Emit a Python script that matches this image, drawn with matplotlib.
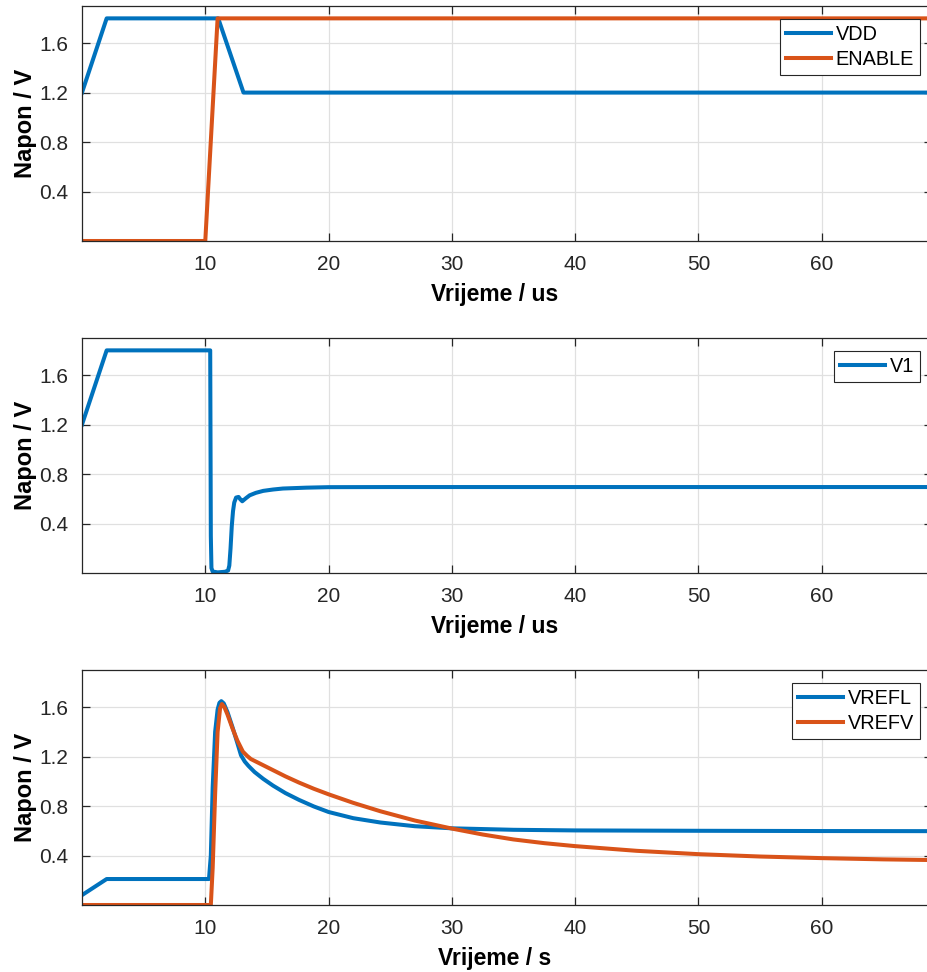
import matplotlib
matplotlib.use("Agg")
import matplotlib.pyplot as plt

plt.rcParams['font.family'] = ['Liberation Sans', 'DejaVu Sans']

BLUE = '#0072BD'
ORANGE = '#D95319'

# ---- data ----
t_vdd = [0, 2, 11.05, 13.1, 70]
vdd = [1.2, 1.8, 1.8, 1.2, 1.2]

t_en = [0, 10.0, 11.0, 70]
enable = [0, 0, 1.8, 1.8]

t_v1 = [0, 2, 10.4, 10.45, 10.5, 10.6, 11.0, 11.6, 11.85, 11.95, 12.05, 12.15,
        12.25, 12.35, 12.5, 12.7, 12.85, 13.0, 13.3, 13.6, 14.1, 14.7, 15.5,
        16.3, 18.2, 20, 25, 70]
v1 = [1.2, 1.8, 1.8, 0.3, 0.04, 0.012, 0.005, 0.01, 0.02, 0.06, 0.2, 0.38,
      0.5, 0.57, 0.61, 0.615, 0.595, 0.58, 0.605, 0.628, 0.648, 0.664, 0.675,
      0.683, 0.69, 0.694, 0.695, 0.695]

t_vrefl = [0, 2, 10.3, 10.45, 10.6, 10.8, 11.0, 11.15, 11.3, 11.5, 11.8, 12.2,
           12.6, 12.9, 13.2, 13.5, 14.0, 14.7, 15.5, 16.5, 17.6, 18.8, 20, 22,
           24.2, 27, 30, 35, 40, 50, 60, 70]
vrefl = [0.08, 0.21, 0.21, 0.4, 0.95, 1.4, 1.58, 1.635, 1.648, 1.63, 1.56, 1.44,
         1.31, 1.21, 1.16, 1.125, 1.075, 1.02, 0.965, 0.905, 0.85, 0.797, 0.752,
         0.702, 0.667, 0.637, 0.62, 0.608, 0.603, 0.6, 0.598, 0.597]

t_vrefv = [0, 10.45, 10.6, 10.8, 11.0, 11.2, 11.35, 11.55, 11.8, 12.2, 12.6,
           13.05, 13.4, 13.7, 14.5, 15.5, 16.5, 17.6, 18.8, 20, 22, 24.2, 27,
           30, 32.5, 35, 37.5, 40, 45, 50, 55, 60, 65, 70]
vrefv = [0, 0, 0.3, 0.9, 1.4, 1.59, 1.625, 1.6, 1.54, 1.43, 1.33, 1.24, 1.205,
         1.18, 1.14, 1.09, 1.04, 0.99, 0.94, 0.895, 0.826, 0.758, 0.683, 0.618,
         0.57, 0.53, 0.5, 0.476, 0.438, 0.411, 0.392, 0.379, 0.369, 0.362]

xticks = [10, 20, 30, 40, 50, 60]
yticks = [0.4, 0.8, 1.2, 1.6]
ylabel_txt = 'Napon / V'
xlabels = ['Vrijeme / us', 'Vrijeme / us', 'Vrijeme / s']

W, H = 928, 972
fig = plt.figure(figsize=(W / 100, H / 100), dpi=100)

ax_left, ax_right = 82, 932
panels = [(6, 241), (338, 573), (670, 905)]
axes = []
for top, bot in panels:
    ax = fig.add_axes([ax_left / W, 1 - bot / H, (ax_right - ax_left) / W, (bot - top) / H])
    axes.append(ax)

series = [
    [(t_vdd, vdd, BLUE, 'VDD'), (t_en, enable, ORANGE, 'ENABLE')],
    [(t_v1, v1, BLUE, 'V1')],
    [(t_vrefl, vrefl, BLUE, 'VREFL'), (t_vrefv, vrefv, ORANGE, 'VREFV')],
]

for i, ax in enumerate(axes):
    for t, v, c, lab in series[i]:
        ax.plot(t, v, color=c, lw=2.9, label=lab, solid_joinstyle='round')
    ax.set_xlim(0, 68.95)
    ax.set_ylim(0, 1.9)
    ax.set_xticks(xticks)
    ax.set_yticks(yticks)
    ax.set_yticklabels([f'{y:.1f}' for y in yticks])
    ax.grid(True, color='#e0e0e0', lw=0.9)
    ax.set_axisbelow(True)
    for s in ax.spines.values():
        s.set_color('#262626')
        s.set_linewidth(0.9)
    ax.tick_params(direction='in', length=6.1, width=0.9, colors='#262626',
                   labelsize=15, pad=10, top=True, right=True)
    ax.set_xlabel(xlabels[i], fontsize=16.5, fontweight='bold', va='top')
    ax.xaxis.set_label_coords(0.486, -42 / 235)
    ax.set_ylabel(ylabel_txt, fontsize=17, fontweight='bold')
    ax.yaxis.label.set_va('center')
    ax.yaxis.set_label_coords(-0.067, 0.5)
    top = panels[i][0]
    leg = ax.legend(loc='upper right', bbox_to_anchor=(920 / W, 1 - (top + 13) / H),
                    bbox_transform=fig.transFigure, borderaxespad=0,
                    fontsize=14.3, fancybox=False, framealpha=1, edgecolor='#262626',
                    handlelength=2.3, handletextpad=0.22, labelspacing=0.3,
                    borderpad=0.3)
    leg.get_frame().set_linewidth(0.8)

fig.savefig('out.png', dpi=100)
